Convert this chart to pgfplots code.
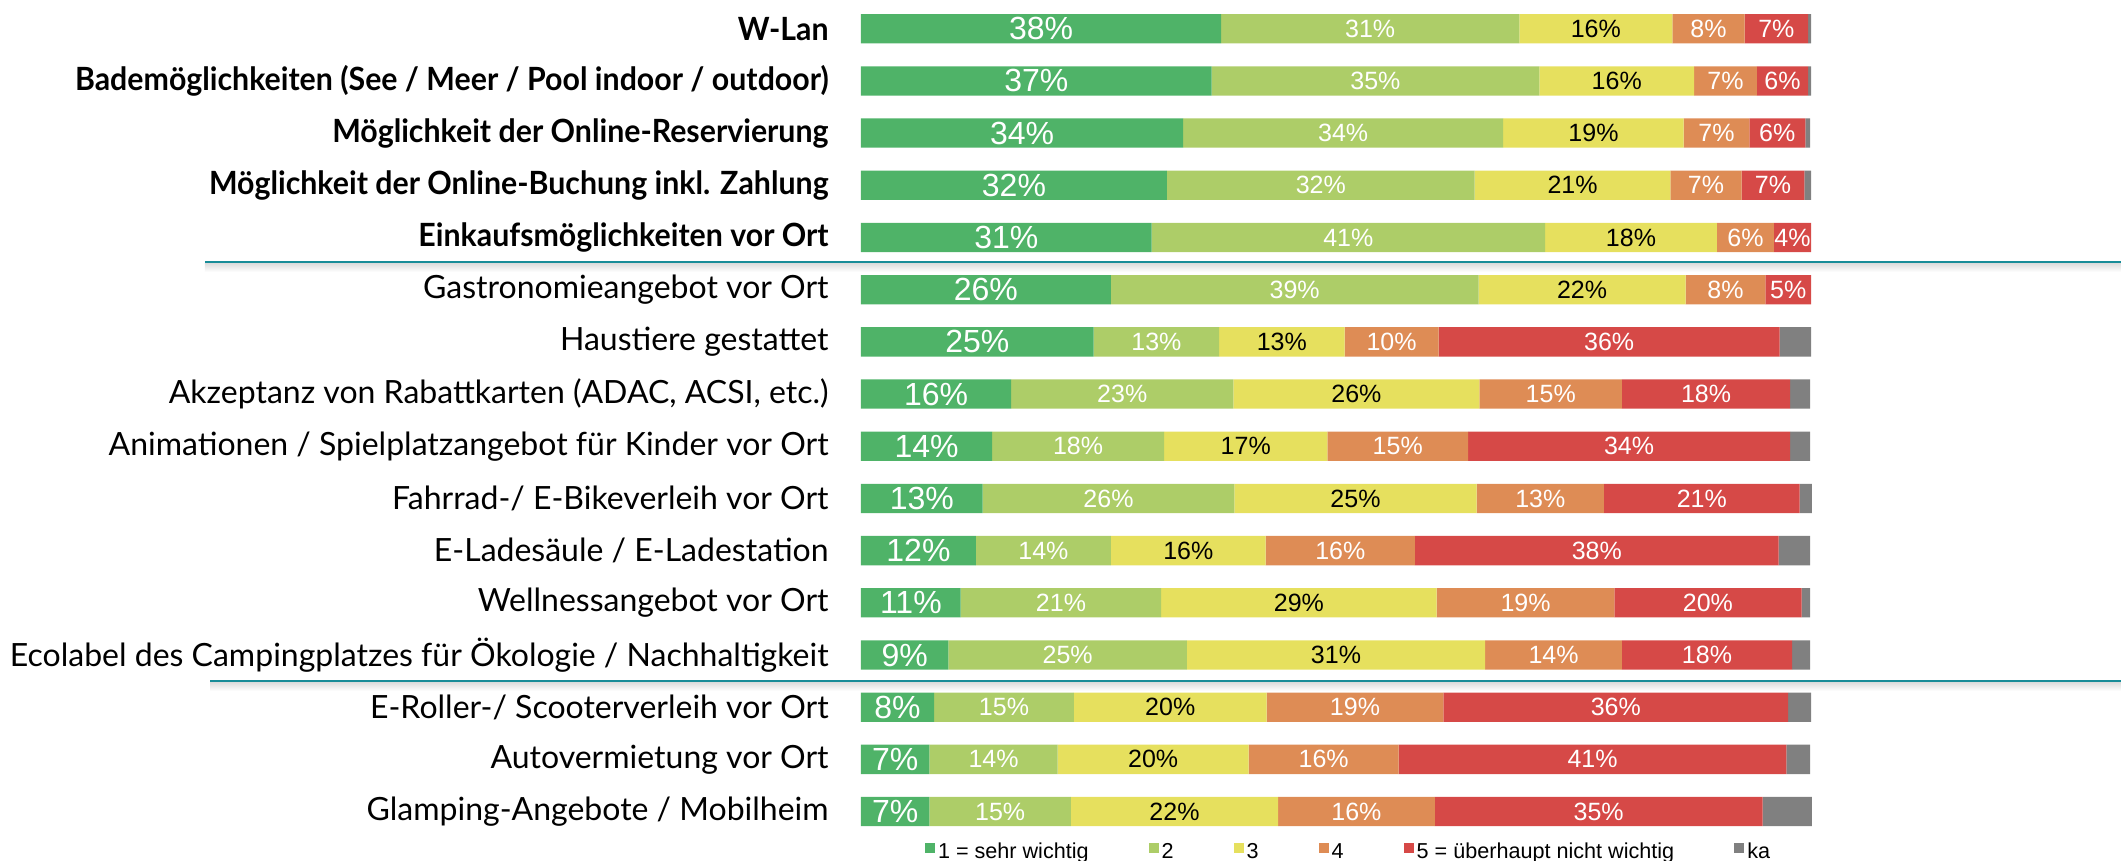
\documentclass[border=0pt]{standalone}
\usepackage{pgfplots}
\pgfplotsset{compat=1.18}
\usepackage{pgfplotstable}
\usepackage{fontspec}
\setmainfont{Lato}
\newfontfamily\arial{Liberation Sans}
\definecolor{cA}{HTML}{4FB368}
\definecolor{cB}{HTML}{ADCD68}
\definecolor{cC}{HTML}{E6E05E}
\definecolor{cD}{HTML}{DE8C55}
\definecolor{cE}{HTML}{D64947}
\definecolor{cF}{HTML}{808080}
\definecolor{teal}{HTML}{188C98}

\pgfplotstableread{
row v1 v2 v3 v4 v5 v6 l1 l2 l3 l4 l5
0 37.9 31.4 16.1 7.6 6.7 0.3 38 31 16 8 7
1 36.9 34.5 16.3 6.6 5.4 0.3 37 35 16 7 6
2 33.9 33.7 19.0 6.9 5.9 0.5 34 34 19 7 6
3 32.2 32.4 20.6 7.5 6.6 0.7 32 32 21 7 7
4 30.6 41.4 18.1 6.0 3.9 0.0 31 41 18 6 4
5 26.3 38.7 21.8 8.4 4.8 0.0 26 39 22 8 5
6 24.5 13.2 13.2 9.9 35.9 3.3 25 13 13 10 36
7 15.8 23.4 25.9 15.0 17.7 2.1 16 23 26 15 18
8 13.8 18.1 17.2 14.8 33.9 2.1 14 18 17 15 34
9 12.8 26.5 25.5 13.4 20.6 1.3 13 26 25 13 21
10 12.1 14.2 16.3 15.7 38.3 3.3 12 14 16 16 38
11 10.5 21.1 29.0 18.7 19.7 0.9 11 21 29 19 20
12 9.2 25.1 31.4 14.4 17.9 1.9 9 25 31 14 18
13 7.7 14.7 20.3 18.6 36.3 2.4 8 15 20 19 36
14 7.2 13.5 20.1 15.8 40.8 2.5 7 14 20 16 41
15 7.2 14.9 21.8 16.5 34.5 5.2 7 15 22 16 35
}\data
% label positions: middle of each segment
\pgfplotstablecreatecol[create col/expr={\thisrow{v1}/2}]{c1}\data
\pgfplotstablecreatecol[create col/expr={\thisrow{v1}+\thisrow{v2}/2}]{c2}\data
\pgfplotstablecreatecol[create col/expr={\thisrow{v1}+\thisrow{v2}+\thisrow{v3}/2}]{c3}\data
\pgfplotstablecreatecol[create col/expr={\thisrow{v1}+\thisrow{v2}+\thisrow{v3}+\thisrow{v4}/2}]{c4}\data
\pgfplotstablecreatecol[create col/expr={\thisrow{v1}+\thisrow{v2}+\thisrow{v3}+\thisrow{v4}+\thisrow{v5}/2}]{c5}\data

\newcommand\bl[1]{\scalebox{0.947}[1]{\textbf{#1}}}

\pgfplotsset{common/.style={
  x=4.75pt, y=26.095pt,
  y dir=reverse,
  xmin=0, xmax=100, ymin=-0.55, ymax=15.93,
  clip=false,
  at={(0,0)}, anchor=south west,
}}

\begin{document}
\begin{tikzpicture}
\begin{axis}[
  common,
  xbar stacked,
  bar width=14.65pt,
  axis line style={draw=none},
  xtick=\empty,
  ytick={0,...,15},
  yticklabels={
    \bl{W-Lan},
    \bl{Bademöglichkeiten (See / Meer / Pool indoor / outdoor)},
    \bl{Möglichkeit der Online-Reservierung},
    \bl{Möglichkeit der Online-Buchung inkl. Zahlung},
    \bl{Einkaufsmöglichkeiten vor Ort},
    Gastronomieangebot vor Ort,
    Haustiere gestattet,
    {Akzeptanz von Rabattkarten (ADAC, ACSI, etc.)},
    Animationen / Spielplatzangebot für Kinder vor Ort,
    Fahrrad-/ E-Bikeverleih vor Ort,
    E-Ladesäule / E-Ladestation,
    Wellnessangebot vor Ort,
    Ecolabel des Campingplatzes für Ökologie / Nachhaltigkeit,
    E-Roller-/ Scooterverleih vor Ort,
    Autovermietung vor Ort,
    Glamping-Angebote / Mobilheim},
  major tick length=0pt,
  yticklabel style={font=\fontsize{16}{19}\selectfont, inner sep=0pt, xshift=-16pt},
  legend columns=6,
  legend style={draw=none, fill=none, inner sep=0pt, outer sep=0pt,
     at={(axis description cs:0.0674,0.0093)}, anchor=west,
     font=\arial\fontsize{10.8}{12}\selectfont,
     nodes={inner sep=1.5pt},
     /tikz/every even column/.append style={column sep=28.5pt}},
  legend cell align=left,
  legend image code/.code={\fill[#1] (0pt,-0.5pt) rectangle (5pt,4.5pt);},
]
\addplot[fill=cA, draw=none] table[x=v1, y=row] {\data};
\addlegendentry{1 = sehr wichtig}
\addplot[fill=cB, draw=none] table[x=v2, y=row] {\data};
\addlegendentry{2}
\addplot[fill=cC, draw=none] table[x=v3, y=row] {\data};
\addlegendentry{3}
\addplot[fill=cD, draw=none] table[x=v4, y=row] {\data};
\addlegendentry{4}
\addplot[fill=cE, draw=none] table[x=v5, y=row] {\data};
\addlegendentry{5 = überhaupt nicht wichtig}
\addplot[fill=cF, draw=none] table[x=v6, y=row] {\data};
\addlegendentry{ka}

\shade[top color=black!14, bottom color=white, draw=none] (axis cs:-69.05,4.49) rectangle (axis cs:132.63,4.66);
\draw[teal, line width=1.5pt] (axis cs:-69.05,4.47) -- (axis cs:132.63,4.47);
\shade[top color=black!14, bottom color=white, draw=none] (axis cs:-68.5,12.52) rectangle (axis cs:132.63,12.69);
\draw[teal, line width=1.5pt] (axis cs:-68.5,12.50) -- (axis cs:132.63,12.50);

\coordinate (BL) at (axis cs:-90.63,15.93);
\coordinate (TR) at (axis cs:132.63,-0.55);
\end{axis}

% value labels, centred in each segment
\begin{axis}[
  common,
  hide axis,
  point meta=explicit symbolic,
  nodes near coords={\pgfplotspointmeta\%},
  every node near coord/.append style={anchor=center, inner sep=0pt,
     font=\arial\fontsize{12.5}{14}\selectfont, text=white},
]
\addplot[draw=none, every node near coord/.append style={font=\arial\fontsize{16}{18}\selectfont}] table[x=c1, y=row, meta=l1] {\data};
\addplot[draw=none] table[x=c2, y=row, meta=l2] {\data};
\addplot[draw=none, every node near coord/.append style={text=black}] table[x=c3, y=row, meta=l3] {\data};
\addplot[draw=none] table[x=c4, y=row, meta=l4] {\data};
\addplot[draw=none] table[x=c5, y=row, meta=l5] {\data};
\end{axis}
\pgfresetboundingbox
\path[use as bounding box] (BL) rectangle (TR);
\end{tikzpicture}
\end{document}
